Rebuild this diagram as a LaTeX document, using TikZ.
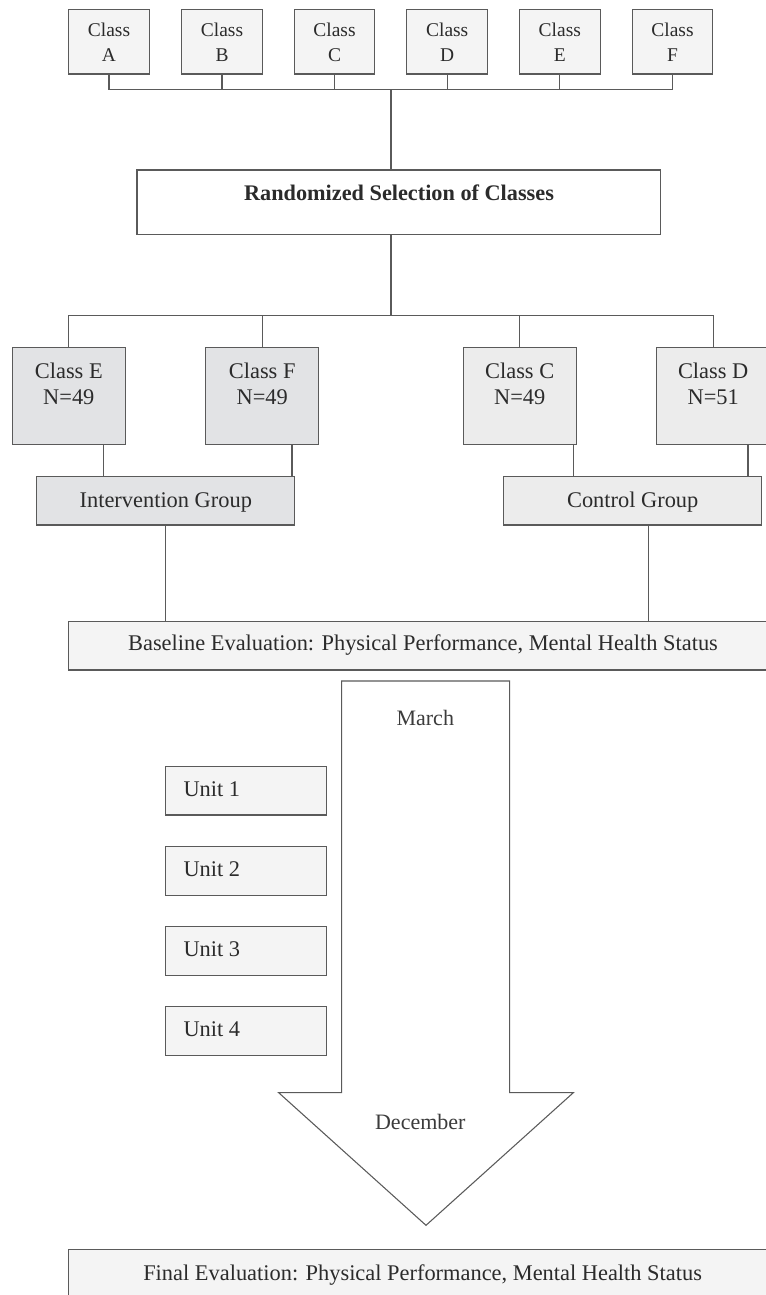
\documentclass[tikz,border=0pt]{standalone}
\usepackage{fontspec}
\setmainfont{Liberation Serif}
\usetikzlibrary{calc}
\definecolor{edge}{HTML}{5A5A5A}
\definecolor{ink}{HTML}{2B2B2B}
\definecolor{inklight}{HTML}{3C3C3C}
\definecolor{fillA}{HTML}{F4F4F4}
\definecolor{fillI}{HTML}{E2E3E5}
\definecolor{fillC}{HTML}{ECECEC}
\tikzset{
  box/.style={draw=edge, line width=0.85pt, rectangle, inner sep=0pt},
  topbox/.style={box, fill=fillA, minimum width=60.45pt, minimum height=48.2pt},
  midbox/.style={box, minimum width=84.75pt, minimum height=72.45pt},
  grpbox/.style={box, minimum width=193.5pt, minimum height=36.2pt},
  unitbox/.style={box, fill=fillA, minimum width=121.05pt, minimum height=36.3pt},
  evalbox/.style={box, fill=fillA, minimum width=532.3pt, minimum height=36.5pt},
  link/.style={draw=edge, line width=0.8pt},
  smalltxt/.style={font=\fontsize{14.6}{18.75}\selectfont, text=ink, align=center, anchor=base, inner sep=0pt},
  bigtxt/.style={font=\fontsize{16.8}{19.5}\selectfont, text=ink, align=center, anchor=base, inner sep=0pt},
  boldtxt/.style={font=\fontsize{16.7}{19.5}\selectfont\bfseries, text=ink, anchor=base, inner sep=0pt},
  monthtxt/.style={font=\fontsize{16.5}{19.5}\selectfont, text=inklight, anchor=base, inner sep=0pt},
}
\begin{document}
\begin{tikzpicture}[x=0.75pt,y=-0.75pt]
\useasboundingbox (0,0) rectangle (766,1295);
\fill[white] (0,0) rectangle (766,1295);
\clip (0,0) rectangle (766,1295);

% top row of classes
\node[topbox] (ca) at (109,41.85) {};
\node[topbox] (cb) at (222,41.85) {};
\node[topbox] (cc0) at (334.5,41.85) {};
\node[topbox] (cd0) at (447.2,41.85) {};
\node[topbox] (ce0) at (559.8,41.85) {};
\node[topbox] (cf0) at (672.5,41.85) {};
\node[smalltxt] (tca) at (109,61.7) {Class\\A};
\node[smalltxt] (tcb) at (222,61.7) {Class\\B};
\node[smalltxt] (tcc) at (334.5,61.7) {Class\\C};
\node[smalltxt] (tcd) at (447.2,61.7) {Class\\D};
\node[smalltxt] (tce) at (559.8,61.7) {Class\\E};
\node[smalltxt] (tcf) at (672.5,61.7) {Class\\F};

\coordinate (bus) at (391,89.7);
\coordinate (bus2) at (391,315.7);

% randomized selection
\node[box, fill=white, minimum width=392.8pt, minimum height=48.5pt] (rand) at (398.85,202.35) {};
\node[boldtxt] (trand) at (399,200) {Randomized Selection of Classes};

\draw[link] (ca.south) -- (ca.south |- bus) -- (cf0.south |- bus) -- (cf0.south);
\draw[link] (cb.south) -- (cb.south |- bus);
\draw[link] (cc0.south) -- (cc0.south |- bus);
\draw[link] (cd0.south) -- (cd0.south |- bus);
\draw[link] (ce0.south) -- (ce0.south |- bus);
\draw[link] (bus) -- (rand.north -| bus);

% selected classes
\node[midbox, fill=fillI] (ce) at (68.8,396) {};
\node[midbox, fill=fillI] (cf) at (262.2,396) {};
\node[midbox, fill=fillC] (cc) at (519.7,396) {};
\node[midbox, fill=fillC] (cd) at (713.2,396) {};
\node[bigtxt] (tce2) at (68.8,404) {Class E\\N=49};
\node[bigtxt] (tcf2) at (262.2,404) {Class F\\N=49};
\node[bigtxt] (tcc2) at (519.7,404) {Class C\\N=49};
\node[bigtxt] (tcd2) at (713.2,404) {Class D\\N=51};

\draw[link] (rand.south -| bus2) -- (bus2);
\draw[link] (ce.north) -- (ce.north |- bus2) -- (cd.north |- bus2) -- (cd.north);
\draw[link] (cf.north) -- (cf.north |- bus2);
\draw[link] (cc.north) -- (cc.north |- bus2);

% groups
\node[grpbox, fill=fillI] (iv) at (165.3,500.85) {};
\node[grpbox, fill=fillC] (ct) at (632.5,500.85) {};
\node[bigtxt] (tiv) at (165.8,507.3) {Intervention Group};
\node[bigtxt] (tct) at (632.7,507.3) {Control Group};

\coordinate (pe) at (103.7,0);
\coordinate (pf) at (292,0);
\coordinate (pc) at (573.7,0);
\coordinate (pd) at (748,0);
\coordinate (pk) at (648.7,0);
\draw[link] (ce.south -| pe) -- (iv.north -| pe);
\draw[link] (cf.south -| pf) -- (iv.north -| pf);
\draw[link] (cc.south -| pc) -- (ct.north -| pc);
\draw[link] (cd.south -| pd) -- (ct.north -| pd);

% baseline evaluation
\node[evalbox] (base) at (423.15,645.65) {};
\node[bigtxt] (tbase) at (423,650) {Baseline Evaluation: Physical Performance, Mental Health Status};
\draw[link] (iv.south) -- (base.north -| iv.south);
\draw[link] (ct.south -| pk) -- (base.north -| pk);

% time arrow
\coordinate (a1) at (341.7,681);
\coordinate (a2) at (509.7,681);
\coordinate (a3) at (509.7,1092.7);
\coordinate (a4) at (573.3,1092.7);
\coordinate (a5) at (426,1225.3);
\coordinate (a6) at (278.7,1092.7);
\coordinate (a7) at (341.7,1092.7);
\draw[draw=edge, line width=0.8pt, fill=white, line join=miter]
  (a1) -- (a2) -- (a3) -- (a4) -- (a5) -- (a6) -- (a7) -- cycle;
\node[monthtxt] (tmar) at (425.3,725.7) {March};
\node[monthtxt] (tdec) at (420.3,1129.3) {December};

% units
\node[unitbox] (u1) at (246,790.85) {};
\node[unitbox] (u2) at (246,871) {};
\node[unitbox] (u3) at (246,951) {};
\node[unitbox] (u4) at (246,1031) {};
\node[bigtxt, anchor=base west] (tu1) at (183.3,796) {Unit 1};
\node[bigtxt, anchor=base west] (tu2) at (183.3,876.2) {Unit 2};
\node[bigtxt, anchor=base west] (tu3) at (183.3,956.2) {Unit 3};
\node[bigtxt, anchor=base west] (tu4) at (183.3,1036.2) {Unit 4};

% final evaluation
\node[evalbox] (final) at (423.15,1273.65) {};
\node[bigtxt] (tfinal) at (422.6,1280) {Final Evaluation: Physical Performance, Mental Health Status};
\end{tikzpicture}
\end{document}
